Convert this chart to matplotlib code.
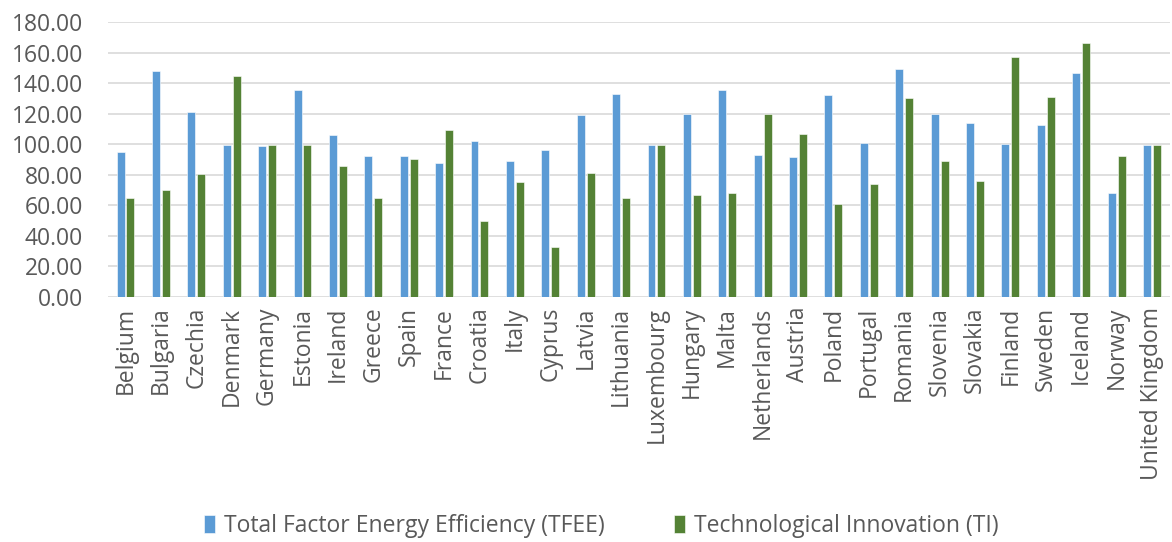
import matplotlib.pyplot as plt
import numpy as np

countries = ['Belgium', 'Bulgaria', 'Czechia', 'Denmark', 'Germany', 'Estonia', 'Ireland',
             'Greece', 'Spain', 'France', 'Croatia', 'Italy', 'Cyprus', 'Latvia', 'Lithuania',
             'Luxembourg', 'Hungary', 'Malta', 'Netherlands', 'Austria', 'Poland', 'Portugal',
             'Romania', 'Slovenia', 'Slovakia', 'Finland', 'Sweden', 'Iceland', 'Norway',
             'United Kingdom']
tfee = [95.1, 147.8, 121.1, 99.7, 98.8, 135.3, 106.0, 92.3, 92.5, 87.5, 102.3, 89.4, 96.6,
        119.4, 132.7, 99.7, 119.6, 135.5, 92.9, 92.0, 132.1, 100.6, 149.3, 119.8, 114.1,
        100.1, 112.6, 146.7, 68.4, 99.7]
ti = [64.7, 70.2, 80.9, 144.5, 99.7, 99.9, 85.7, 64.7, 90.7, 109.7, 49.6, 75.4, 32.6,
      81.1, 64.9, 99.7, 66.5, 68.2, 120.0, 107.1, 61.2, 74.3, 130.1, 89.4, 75.9, 157.4,
      131.2, 166.6, 92.3, 99.7]
yticks = np.arange(0, 181, 20)

plt.rcParams['font.family'] = ['Open Sans', 'DejaVu Sans']
txt = '#595959'

fig = plt.figure(figsize=(11.72, 5.42), dpi=100)
ax = fig.add_axes([0.092, 0.452, 0.906, 0.507])

x = np.arange(len(countries))
w = 0.225
ax.bar(x - 0.14, tfee, w, color='#5B9BD5', edgecolor='white', linewidth=0.4,
       label='Total Factor Energy Efficiency (TFEE)', zorder=3)
ax.bar(x + 0.14, ti, w, color='#548235', edgecolor='white', linewidth=0.4,
       label='Technological Innovation (TI)', zorder=3)

ax.set_xlim(-0.5, len(countries) - 0.5)
ax.set_ylim(0, 180)
ax.set_yticks(yticks)
ax.set_yticklabels(['%.2f' % v for v in yticks], fontsize=16.5, color=txt)
ax.set_xticks(x)
ax.set_xticklabels(countries, rotation=90, fontsize=16.5, color=txt)
ax.tick_params(length=0)
ax.tick_params(axis='y', pad=18)
ax.tick_params(axis='x', pad=7)
ax.grid(axis='y', color='#D9D9D9', linewidth=1.2, zorder=0)
for s in ax.spines.values():
    s.set_visible(False)

fig.legend(loc='center', bbox_to_anchor=(0.513, 0.03), ncol=2, frameon=False,
           fontsize=16.5, labelcolor=txt, handlelength=0.5, handleheight=0.8,
           handletextpad=0.4, columnspacing=3.0)

fig.savefig('out.png', dpi=100)
